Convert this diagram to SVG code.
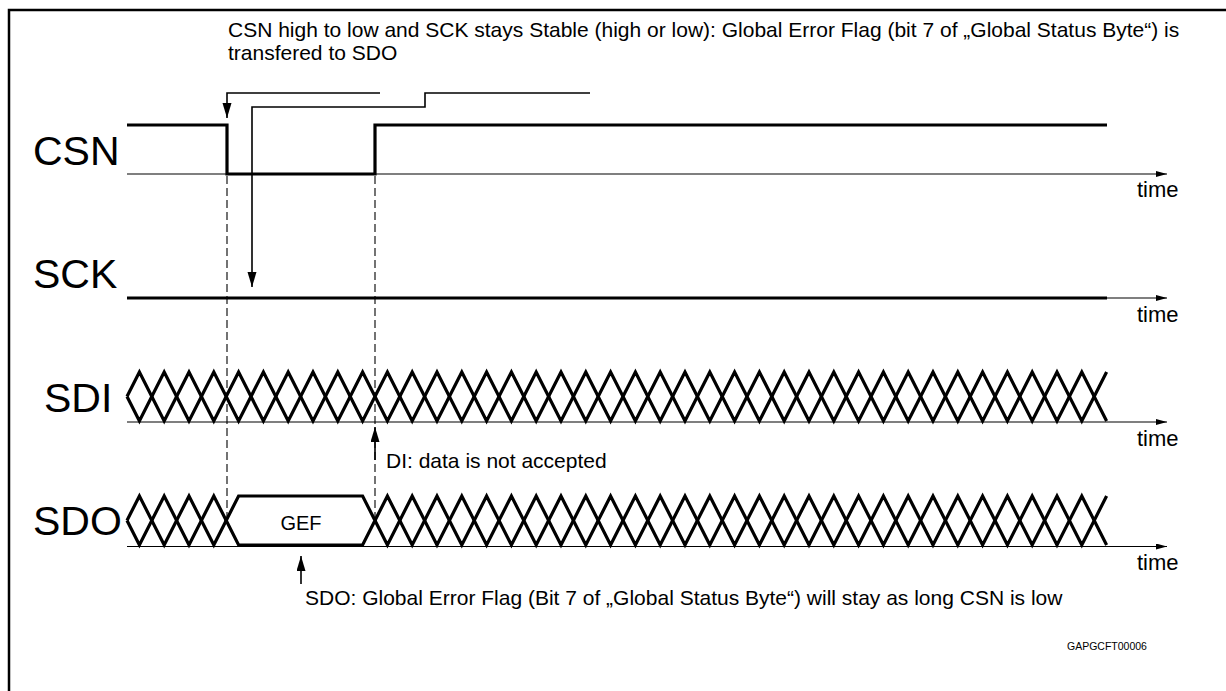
<svg xmlns="http://www.w3.org/2000/svg" width="1226" height="691" viewBox="0 0 1226 691">
<style>
text{font-family:"Liberation Sans",Arial,sans-serif;fill:#000}
.lbl{font-size:41px}
.t{font-size:21px}
.time{font-size:22px}
.sig{fill:none;stroke:#000;stroke-width:3.2;stroke-linejoin:miter;stroke-linecap:butt}
.axis{fill:none;stroke:#000;stroke-width:1.1}
.dash{fill:none;stroke:#000;stroke-width:1.1;stroke-dasharray:8 4}
.arr{fill:none;stroke:#000;stroke-width:1.6}
</style>
<defs>
<marker id="ah" markerUnits="userSpaceOnUse" markerWidth="16" markerHeight="10" refX="15" refY="4.5" orient="auto">
<path d="M0,0 L15,4.5 L0,9 z" fill="#000"/>
</marker>
<marker id="ta" markerUnits="userSpaceOnUse" markerWidth="12" markerHeight="8" refX="11" refY="3" orient="auto">
<path d="M0,0 L11,3 L0,6 z" fill="#000"/>
</marker>
</defs>
<rect x="9" y="10" width="1240" height="700" fill="none" stroke="#000" stroke-width="2.5"/>

<g id="note-top">
<text class="t" x="228" y="37">CSN high to low and SCK stays Stable (high or low): Global Error Flag (bit 7 of „Global Status Byte“) is</text>
<text class="t" x="228" y="60">transfered to SDO</text>
</g>

<g id="CSN">
<text class="lbl" x="33" y="165">CSN</text>
<line class="axis" x1="127" y1="174" x2="1167" y2="174" marker-end="url(#ta)"/>
<polyline class="sig" points="127,125 227,125 227,174 375,174 375,125 1107,125"/>
<text class="time" x="1137" y="197">time</text>
</g>

<g id="SCK">
<text class="lbl" x="33" y="288">SCK</text>
<line class="axis" x1="127" y1="298" x2="1167" y2="298" marker-end="url(#ta)"/>
<line class="sig" x1="127" y1="298" x2="1107" y2="298"/>
<text class="time" x="1137" y="322">time</text>
</g>

<g id="SDI">
<text class="lbl" x="44" y="412">SDI</text>
<line class="axis" x1="127" y1="422" x2="1167" y2="422" marker-end="url(#ta)"/>
<path class="sig" d="M127,396.5 l12.4,-24.5 l24.8,49 l24.8,-49 l24.8,49 l24.8,-49 l24.8,49 l24.8,-49 l24.8,49 l24.8,-49 l24.8,49 l24.8,-49 l24.8,49 l24.8,-49 l24.8,49 l24.8,-49 l24.8,49 l24.8,-49 l24.8,49 l24.8,-49 l24.8,49 l24.8,-49 l24.8,49 l24.8,-49 l24.8,49 l24.8,-49 l24.8,49 l24.8,-49 l24.8,49 l24.8,-49 l24.8,49 l24.8,-49 l24.8,49 l24.8,-49 l24.8,49 l24.8,-49 l24.8,49 l24.8,-49 l24.8,49 l24.8,-49 l24.8,49"/>
<path class="sig" d="M127,396.5 l12.4,24.5 l24.8,-49 l24.8,49 l24.8,-49 l24.8,49 l24.8,-49 l24.8,49 l24.8,-49 l24.8,49 l24.8,-49 l24.8,49 l24.8,-49 l24.8,49 l24.8,-49 l24.8,49 l24.8,-49 l24.8,49 l24.8,-49 l24.8,49 l24.8,-49 l24.8,49 l24.8,-49 l24.8,49 l24.8,-49 l24.8,49 l24.8,-49 l24.8,49 l24.8,-49 l24.8,49 l24.8,-49 l24.8,49 l24.8,-49 l24.8,49 l24.8,-49 l24.8,49 l24.8,-49 l24.8,49 l24.8,-49 l24.8,49 l24.8,-49"/>
<text class="time" x="1137" y="446">time</text>
</g>

<g id="SDO">
<text class="lbl" x="33" y="535">SDO</text>
<line class="axis" x1="127" y1="546.5" x2="1167" y2="546.5" marker-end="url(#ta)"/>
<path class="sig" d="M127,520.5 l12.4,-24.5 l24.8,49 l24.8,-49 l24.8,49 l12.4,-24.5"/>
<path class="sig" d="M127,520.5 l12.4,24.5 l24.8,-49 l24.8,49 l24.8,-49 l12.4,24.5"/>
<path class="sig" d="M226.2,520.5 L238.6,496 L362.6,496 L375,520.5 L362.6,545 L238.6,545 Z"/>
<path class="sig" d="M375,520.5 l12.4,-24.5 l24.8,49 l24.8,-49 l24.8,49 l24.8,-49 l24.8,49 l24.8,-49 l24.8,49 l24.8,-49 l24.8,49 l24.8,-49 l24.8,49 l24.8,-49 l24.8,49 l24.8,-49 l24.8,49 l24.8,-49 l24.8,49 l24.8,-49 l24.8,49 l24.8,-49 l24.8,49 l24.8,-49 l24.8,49 l24.8,-49 l24.8,49 l24.8,-49 l24.8,49 l24.8,-49 l24.8,49"/>
<path class="sig" d="M375,520.5 l12.4,24.5 l24.8,-49 l24.8,49 l24.8,-49 l24.8,49 l24.8,-49 l24.8,49 l24.8,-49 l24.8,49 l24.8,-49 l24.8,49 l24.8,-49 l24.8,49 l24.8,-49 l24.8,49 l24.8,-49 l24.8,49 l24.8,-49 l24.8,49 l24.8,-49 l24.8,49 l24.8,-49 l24.8,49 l24.8,-49 l24.8,49 l24.8,-49 l24.8,49 l24.8,-49 l24.8,49 l24.8,-49"/>
<text class="t" x="301" y="530" text-anchor="middle" style="font-size:20px">GEF</text>
<text class="time" x="1137" y="570">time</text>
</g>

<g id="connectors">
<line class="dash" x1="227" y1="176" x2="227" y2="518"/>
<line class="dash" x1="375" y1="176" x2="375" y2="518"/>
<polyline class="arr" points="380,93 227,93 227,118" marker-end="url(#ah)"/>
<polyline class="arr" points="590,93 425,93 425,107 252,107 252,287" marker-end="url(#ah)"/>
<line class="arr" x1="375" y1="460" x2="375" y2="427" marker-end="url(#ah)"/>
<line class="arr" x1="301" y1="584" x2="301" y2="556" marker-end="url(#ah)"/>
</g>

<g id="notes">
<text class="t" x="386" y="468">DI: data is not accepted</text>
<text class="t" x="305" y="605">SDO: Global Error Flag (Bit 7 of „Global Status Byte“) will stay as long CSN is low</text>
<text x="1067" y="650" style="font-size:10.5px">GAPGCFT00006</text>
</g>
</svg>
